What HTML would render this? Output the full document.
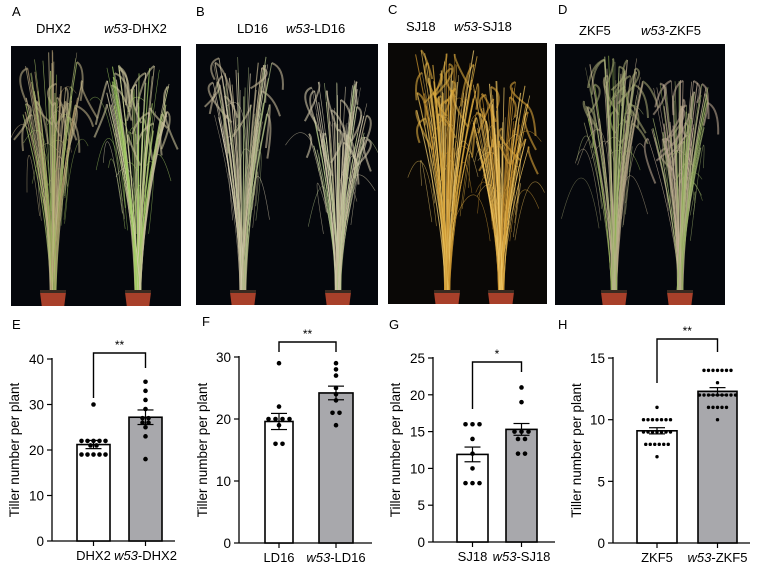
<!DOCTYPE html>
<html><head><meta charset="utf-8"><style>
html,body{margin:0;padding:0;background:#fff;width:761px;height:567px;overflow:hidden}
svg{display:block;font-family:"Liberation Sans",Arial,sans-serif}
</style></head><body>
<svg id="s" width="761" height="567" viewBox="0 0 761 567" xmlns="http://www.w3.org/2000/svg">
<defs>
<clipPath id="cA"><rect x="11" y="46" width="170" height="260"/></clipPath>
<clipPath id="cB"><rect x="196" y="44" width="182" height="261"/></clipPath>
<clipPath id="cC"><rect x="388" y="43" width="159" height="261"/></clipPath>
<clipPath id="cD"><rect x="555" y="44" width="170" height="261"/></clipPath>
</defs>
<g font-size="13" fill="#000">
<text x="12" y="16">A</text><text x="196" y="16">B</text><text x="388" y="14">C</text><text x="558" y="14">D</text>
<text x="36" y="33">DHX2</text><text x="104" y="33"><tspan font-style="italic">w53</tspan>-DHX2</text>
<text x="237" y="33">LD16</text><text x="286" y="33"><tspan font-style="italic">w53</tspan>-LD16</text>
<text x="406" y="31">SJ18</text><text x="454" y="31"><tspan font-style="italic">w53</tspan>-SJ18</text>
<text x="579" y="35">ZKF5</text><text x="641" y="35"><tspan font-style="italic">w53</tspan>-ZKF5</text>
<text x="12" y="329">E</text><text x="202" y="326">F</text><text x="389" y="329">G</text><text x="558" y="329">H</text>
</g>
<rect x="11" y="46" width="170" height="260" fill="#05070c"/>
<rect x="196" y="44" width="182" height="261" fill="#05070c"/>
<rect x="388" y="43" width="159" height="261" fill="#0a0806"/>
<rect x="555" y="44" width="170" height="261" fill="#05070c"/>
<g id="pA" clip-path="url(#cA)"></g>
<g id="pB" clip-path="url(#cB)"></g>
<g id="pC" clip-path="url(#cC)"></g>
<g id="pD" clip-path="url(#cD)"></g>
<g id="charts"></g>
</svg>
<script>
var NS="http://www.w3.org/2000/svg";
var seed=7;function r(){seed=(seed*16807)%2147483647;return seed/2147483647;}
function el(p,t,a,txt){var e=document.createElementNS(NS,t);for(var k in a)e.setAttribute(k,a[k]);if(txt!=null)e.textContent=txt;p.appendChild(e);return e;}
function plant(P,cx,base,top,spread,cols,n){
 P=document.getElementById(P);
 for(var i=0;i<n;i++){
  var tx=cx+(r()-0.5)*spread*2, ty=top+r()*70, c=cols[Math.floor(r()*cols.length)];
  var mx=cx+(tx-cx)*0.2, my=base-(base-ty)*0.5;
  el(P,"path",{d:"M"+(cx+(r()-0.5)*6)+" "+base+" Q"+mx+" "+my+" "+tx+" "+ty,stroke:c,"stroke-width":(0.4+r()*0.8).toFixed(2),fill:"none",opacity:0.75});
  if(r()<0.25){var lx=tx+(r()-0.5)*60,ly=ty+30+r()*70;el(P,"path",{d:"M"+(cx+(tx-cx)*0.5)+" "+(my+20)+" Q"+tx+" "+(ty+10)+" "+lx+" "+ly,stroke:c,"stroke-width":0.6,fill:"none",opacity:0.6});}
  if(r()<0.3){el(P,"path",{d:"M"+tx+" "+ty+" q"+((r()-0.5)*30)+" 5 "+((r()-0.5)*40)+" "+(20+r()*25),stroke:cols[0],"stroke-width":2,fill:"none",opacity:0.6});}
 }
 el(P,"path",{d:"M"+(cx-13)+" "+(base-2)+" L"+(cx+13)+" "+(base-2)+" L"+(cx+11)+" "+(base+14)+" L"+(cx-11)+" "+(base+14)+"Z",fill:"#a8402a"});
 el(P,"rect",{x:cx-13,y:base-4,width:26,height:3,fill:"#3a2a20"});
}
plant("pA",53,294,50,30,["#b9ad86","#a9c46a","#c9b98a","#8fae55","#a89068"],60);
plant("pA",138,294,65,32,["#c8c29a","#b3d86e","#d8d2b0","#9cc860","#bfb592"],65);
plant("pB",243,294,55,30,["#c4b99a","#d6ccb0","#a8b880","#b8ac8a"],55);
plant("pB",338,294,80,30,["#cfc6a8","#dcd4b8","#b0c488","#c4b896"],60);
plant("pC",447,294,50,32,["#d9a83e","#e8bf5a","#c8922e","#f0cc70"],60);
plant("pC",501,294,80,30,["#d8a43a","#e6bb58","#c48c2c","#f0ca6c"],65);
plant("pD",614,294,55,30,["#9fa070","#8fb050","#b8a888","#a8b878","#c0b090"],60);
plant("pD",680,294,80,32,["#b6a48e","#a4b872","#c8b29a","#90aa5a"],65);

var C=document.getElementById("charts");
function chart(o){
 var ax=o.ax,y0=o.y0,k=o.k;function Y(v){return y0-v*k;}
 el(C,"line",{x1:ax,y1:Y(o.max)-1,x2:ax,y2:y0,stroke:"#000","stroke-width":1.3});
 el(C,"line",{x1:ax,y1:y0,x2:o.xe,y2:y0,stroke:"#000","stroke-width":1.3});
 o.ticks.forEach(function(t){el(C,"line",{x1:ax-5,y1:Y(t),x2:ax,y2:Y(t),stroke:"#000","stroke-width":1.2});el(C,"text",{x:ax-8,y:Y(t)+5,"text-anchor":"end","font-size":13.5},String(t));});
 el(C,"text",{transform:"translate("+o.tx+","+((Y(o.max)+y0)/2)+") rotate(-90)","text-anchor":"middle","font-size":13.5},"Tiller number per plant");
 o.bars.forEach(function(b,i){
  var x=b.x, w=b.w, cx=x+w/2;
  el(C,"rect",{x:x,y:Y(b.m),width:w,height:y0-Y(b.m),fill:i?"#a8a8ac":"#fff",stroke:"#000","stroke-width":1.6});
  el(C,"line",{x1:cx,y1:y0,x2:cx,y2:y0+5,stroke:"#000","stroke-width":1.2});
  el(C,"line",{x1:cx,y1:Y(b.m+b.e),x2:cx,y2:Y(b.m-b.e),stroke:"#000","stroke-width":1.2});
  el(C,"line",{x1:cx-8,y1:Y(b.m+b.e),x2:cx+8,y2:Y(b.m+b.e),stroke:"#000","stroke-width":1.2});
  el(C,"line",{x1:cx-8,y1:Y(b.m-b.e),x2:cx+8,y2:Y(b.m-b.e),stroke:"#000","stroke-width":1.2});
  var cnt={};b.d.forEach(function(v){cnt[v]=(cnt[v]||0)+1;});
  for(var v in cnt){var n=cnt[v];for(var j=0;j<n;j++){el(C,"circle",{cx:cx+(j-(n-1)/2)*o.dx,cy:Y(+v),r:o.dr,fill:"#000"});}}
  var t=el(C,"text",{x:cx,y:y0+19,"text-anchor":"middle","font-size":13});
  if(i){el(t,"tspan",{"font-style":"italic"},"w53");el(t,"tspan",{},"-"+o.name);}else t.textContent=o.name;
 });
 var l=o.bars[0].x+o.bars[0].w/2,rr=o.bars[1].x+o.bars[1].w/2;
 el(C,"path",{d:"M"+l+" "+o.bl+" V"+o.by+" H"+rr+" V"+o.br,fill:"none",stroke:"#000","stroke-width":1.4});
 el(C,"text",{x:(l+rr)/2,y:o.by-4,"text-anchor":"middle","font-size":12},o.star);
}
chart({ax:52,y0:541,k:4.55,max:40,ticks:[0,10,20,30,40],xe:175,tx:19,name:"DHX2",dx:6,dr:2.3,
 bars:[{x:77,w:33,m:21.2,e:0.9,d:[30,22,22,22,22,22,21,21,19,19,19,19,19]},{x:129,w:33,m:27.2,e:1.6,d:[35,33,31,29,27,27,26,26,25,23,18]}],
 by:353,bl:398,br:368,star:"**"});
chart({ax:239,y0:543,k:6.2,max:30,ticks:[0,10,20,30],xe:372,tx:207,name:"LD16",dx:7,dr:2.3,
 bars:[{x:265,w:28,m:19.6,e:1.3,d:[29,22,20,20,20,20,19,16,16]},{x:319,w:34,m:24.2,e:1.1,d:[29,28,27,25,24,23,21,21,19]}],
 by:342,bl:352,br:352,star:"**"});
chart({ax:433,y0:542,k:7.36,max:25,ticks:[0,5,10,15,20,25],xe:555,tx:400,name:"SJ18",dx:7,dr:2.3,
 bars:[{x:457,w:31,m:11.9,e:1,d:[16,16,16,14,12,10,8,8,8]},{x:506,w:31,m:15.3,e:0.8,d:[21,19,15,15,15,14,14,12,12]}],
 by:362,bl:409,br:372,star:"*"});
chart({ax:613,y0:543,k:12.33,max:15,ticks:[0,5,10,15],xe:750,tx:581,name:"ZKF5",dx:4.5,dr:1.7,
 bars:[{x:637,w:40,m:9.1,e:0.25,d:[11,10,10,10,10,10,10,10,9,9,9,9,9,9,9,8,8,8,8,8,8,7]},{x:698,w:39,m:12.3,e:0.3,d:[14,14,14,14,14,14,14,13,12,12,12,12,12,12,12,12,12,11,11,11,11,11,10]}],
 by:339,bl:383,br:352,star:"**"});
</script>
</body></html>
